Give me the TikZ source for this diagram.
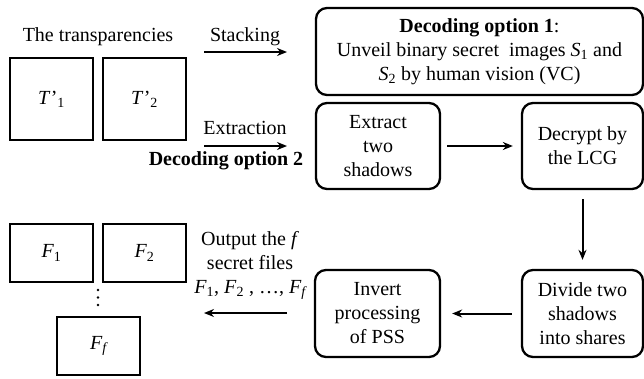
\documentclass[tikz,border=0pt]{standalone}
\usepackage{fontspec}
\setmainfont{Liberation Serif}
\usetikzlibrary{arrows.meta}
\begin{document}
\begin{tikzpicture}[x=1pt,y=-1pt,
  every node/.style={font=\fontsize{20}{24}\selectfont, inner sep=0pt},
  sqbox/.style={draw, line width=2.3pt, minimum width=83pt},
  rbox/.style={draw, line width=2.3pt, rounded corners=11pt, align=center},
  arr/.style={line width=2pt, -{Stealth[length=10pt,width=8pt]}},
  lbl/.style={align=center}]
\useasboundingbox (0,0) rectangle (644,378);
% transparencies
\node[lbl] (ttl) at (98,37) {The transparencies};
\node[sqbox, minimum height=82pt] (t1) at (51.5,99) {\textit{T}\kern0.5pt'\textsubscript{1}};
\node[sqbox, minimum height=82pt] (t2) at (144.5,99) {\textit{T}\kern0.5pt'\textsubscript{2}};
% option 1
\node[rbox, minimum width=327pt, minimum height=87pt] (op1) at (479.5,51.5)
  {\textbf{Decoding option 1}:\\Unveil binary secret\ \ images \textit{S}\textsubscript{1} and\\\textit{S}\textsubscript{2} by human vision (VC)};
\coordinate (s1) at (204,52);
\coordinate (s2) at (287,52);
\draw[arr] (s1) -- (s2);
\node[lbl] (stk) at (245,37) {Stacking};
% option 2
\coordinate (e1) at (204,146);
\coordinate (e2) at (287,146);
\draw[arr] (e1) -- (e2);
\node[lbl] (ext) at (245,128) {Extraction};
\node[lbl] (dop2) at (226,161) {\textbf{Decoding option 2}};
\node[rbox, minimum width=124pt, minimum height=86pt] (exs) at (378,146) {Extract\\two\\shadows};
\node[rbox, minimum width=121pt, minimum height=86pt] (dec) at (582.5,146) {Decrypt by\\the LCG};
\node[rbox, minimum width=121pt, minimum height=87pt] (div) at (582.5,313.5) {Divide two\\shadows\\into shares};
\node[rbox, minimum width=125pt, minimum height=87pt] (inv) at (377.5,313.5) {Invert\\processing\\of PSS};
\draw[arr, shorten <=6pt, shorten >=8pt] (exs) -- (dec);
\draw[arr, shorten <=9pt, shorten >=9pt] (dec) -- (div);
\draw[arr, shorten <=9pt, shorten >=11pt] (div) -- (inv);
% output
\coordinate (o1) at (287,313);
\coordinate (o2) at (204,313);
\draw[arr] (o1) -- (o2);
\node[lbl] (out) at (250,265) {Output the \textit{f}\\secret files\\\textit{F}\textsubscript{1}, \textit{F}\textsubscript{2} , \ldots, \textit{F\textsubscript{f}}};
\node[sqbox, minimum height=58pt] (f1) at (51.5,253) {\textit{F}\textsubscript{1}};
\node[sqbox, minimum height=58pt] (f2) at (144.5,253) {\textit{F}\textsubscript{2}};
\node[sqbox, minimum height=58pt] (ff) at (98.5,346) {\textit{F\textsubscript{f}}};
\fill (98,290) circle (1.4pt) (98,297.5) circle (1.4pt) (98,305) circle (1.4pt);
\end{tikzpicture}
\end{document}
